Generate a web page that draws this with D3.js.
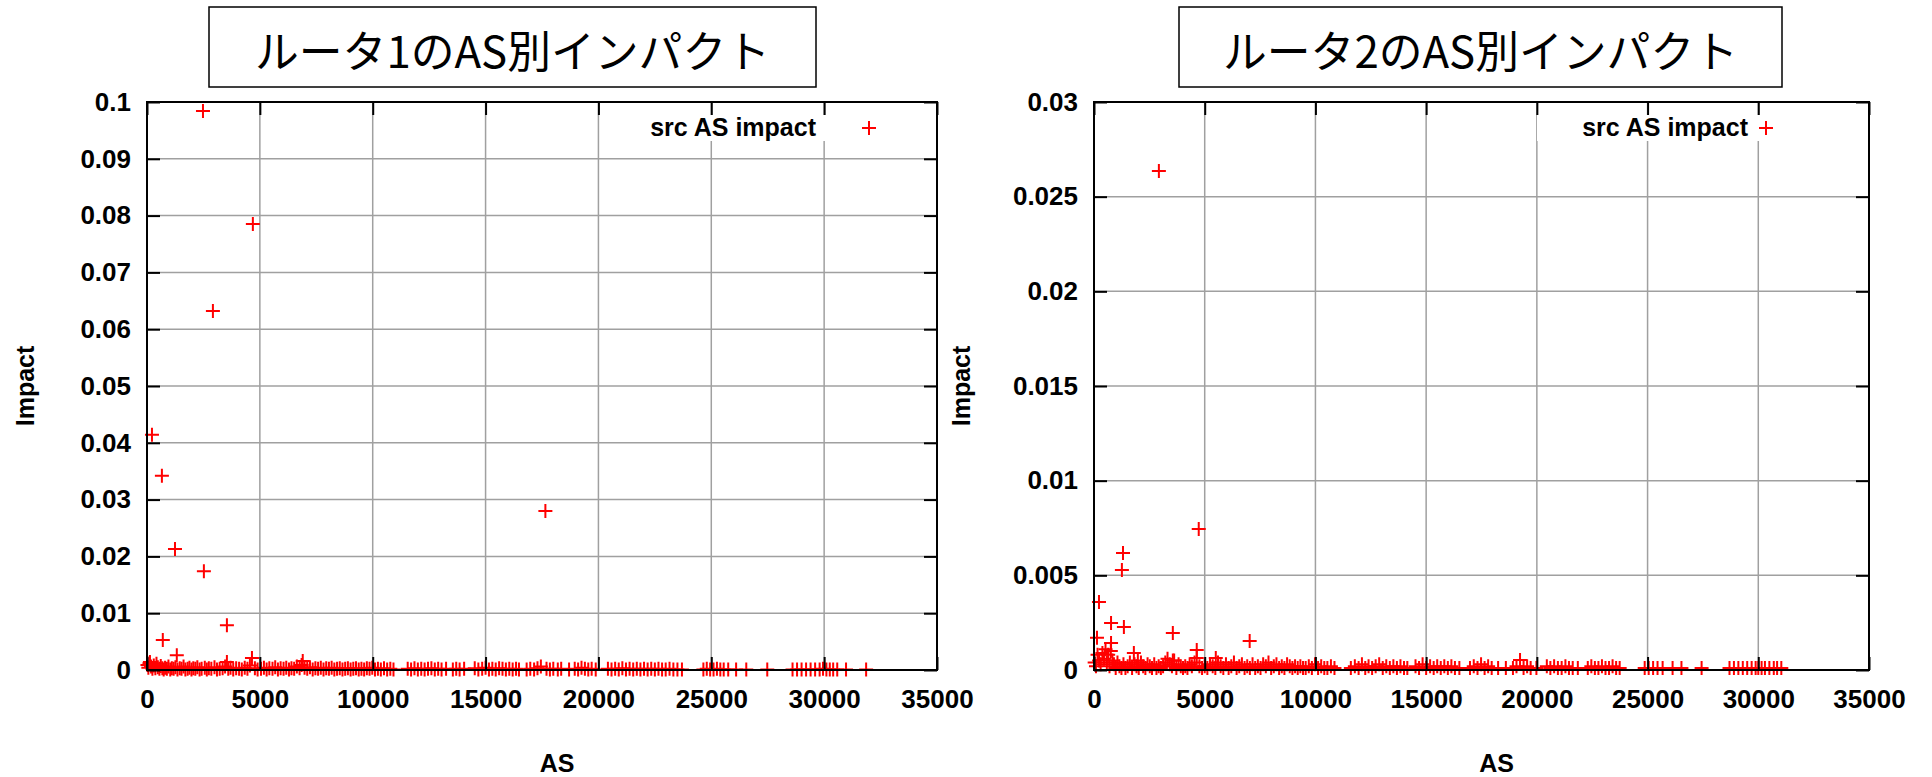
<!DOCTYPE html>
<html>
<head>
<meta charset="utf-8">
<script src="https://cdn.jsdelivr.net/npm/d3@7"></script>
<style>
  body { margin: 0; background: #fff; }
  svg text { font-family: "Liberation Sans", Arial, sans-serif; font-weight: bold; fill: #000; }
  svg text.title { font-family: "Noto Sans CJK JP", sans-serif; font-weight: normal; }
</style>
</head>
<body>
<div id="chart"></div>
<script>
/* DATA */
const titles = ["ルータ1のAS別インパクト", "ルータ2のAS別インパクト"];
const legendLabel = "src AS impact";
const xLabel = "AS";
const yLabel = "Impact";
const xTicks = [0, 5000, 10000, 15000, 20000, 25000, 30000, 35000];
const yTicks1 = [0, 0.01, 0.02, 0.03, 0.04, 0.05, 0.06, 0.07, 0.08, 0.09, 0.1];
const yTicks2 = [0, 0.005, 0.01, 0.015, 0.02, 0.025, 0.03];

// router 1 : [AS, impact]
const router1Peaks = [
  [2480, 0.0984], [4690, 0.0785], [2920, 0.0632], [220, 0.0414], [660, 0.0342],
  [1240, 0.0213], [2520, 0.0174], [17650, 0.0280], [3540, 0.0079], [700, 0.0053],
  [1320, 0.0026], [4650, 0.0021], [6900, 0.0016], [3540, 0.0014], [130, 0.0014]
];
const router1Low = [
  [20, 0.0009], [60, 0.0004], [110, 0.0012], [180, 0.0006], [240, 0.0002], [300, 0.0008],
  [370, 0.0003], [420, 0.0011], [480, 0.0005], [550, 0.0002], [610, 0.0007], [680, 0.0003],
  [740, 0.0001], [800, 0.0004], [880, 0.0002], [950, 0.0006], [1030, 0.0001], [1100, 0.0003],
  [1180, 0.0002], [1260, 0.0005], [1350, 0.0001], [1450, 0.0003], [1530, 0.0002], [1620, 0.0006],
  [1700, 0.0001], [1800, 0.0002], [1880, 0.0004], [1970, 0.0001], [2050, 0.0003], [2140, 0.0002],
  [2230, 0.0005], [2330, 0.0001], [2420, 0.0002], [2560, 0.0004], [2650, 0.0001], [2740, 0.0003],
  [2850, 0.0002], [2990, 0.0005], [3100, 0.0001], [3220, 0.0002], [3350, 0.0003], [3460, 0.0006],
  [3600, 0.0002], [3700, 0.0004], [3820, 0.0001], [3950, 0.0003], [4080, 0.0002], [4200, 0.0001],
  [4330, 0.0004], [4450, 0.0002], [4560, 0.0008], [4780, 0.0003], [4900, 0.0001],
  [5050, 0.0002], [5180, 0.0004], [5300, 0.0001], [5420, 0.0003], [5560, 0.0002], [5680, 0.0005],
  [5800, 0.0001], [5920, 0.0003], [6050, 0.0002], [6170, 0.0004], [6290, 0.0001], [6400, 0.0003],
  [6520, 0.0002], [6640, 0.0006], [6760, 0.0003], [6850, 0.0009], [6980, 0.0004], [7100, 0.0002],
  [7220, 0.0005], [7340, 0.0001], [7460, 0.0003], [7580, 0.0002], [7700, 0.0004], [7820, 0.0001],
  [7940, 0.0003], [8060, 0.0002], [8180, 0.0004], [8300, 0.0001], [8420, 0.0002], [8540, 0.0003],
  [8660, 0.0001], [8780, 0.0002], [8900, 0.0003], [9020, 0.0001], [9140, 0.0002], [9260, 0.0003],
  [9380, 0.0001], [9500, 0.0002], [9620, 0.0001], [9740, 0.0003], [9860, 0.0002], [9980, 0.0004],
  [10100, 0.0001], [10230, 0.0002], [10360, 0.0001], [10500, 0.0003], [10640, 0.0001], [10780, 0.0002],
  [10920, 0.0001],
  [11550, 0.0002], [11700, 0.0001], [11850, 0.0003], [12000, 0.0001], [12150, 0.0002], [12300, 0.0001],
  [12450, 0.0002], [12600, 0.0003], [12750, 0.0001], [12900, 0.0002], [13050, 0.0001], [13250, 0.0002],
  [13550, 0.0001], [13700, 0.0002], [13850, 0.0001], [14050, 0.0002],
  [14520, 0.0003], [14680, 0.0001], [14850, 0.0002], [15000, 0.0004], [15150, 0.0001], [15300, 0.0002],
  [15450, 0.0001], [15600, 0.0003], [15750, 0.0002], [15900, 0.0001], [16050, 0.0002], [16200, 0.0001],
  [16350, 0.0002], [16480, 0.0001],
  [16820, 0.0001], [16980, 0.0002], [17150, 0.0001], [17300, 0.0003], [17450, 0.0006], [17700, 0.0002],
  [17850, 0.0001], [18000, 0.0002], [18200, 0.0001], [18350, 0.0002], [18700, 0.0001],
  [18950, 0.0002], [19100, 0.0001], [19250, 0.0004], [19400, 0.0002], [19550, 0.0001], [19700, 0.0002],
  [19880, 0.0001],
  [20420, 0.0002], [20580, 0.0001], [20740, 0.0002], [20900, 0.0001], [21060, 0.0003], [21220, 0.0001],
  [21380, 0.0002], [21540, 0.0001], [21700, 0.0002], [21860, 0.0001], [22020, 0.0002], [22180, 0.0001],
  [22340, 0.0002], [22500, 0.0001], [22660, 0.0002], [22820, 0.0001], [22980, 0.0001], [23150, 0.0002],
  [23320, 0.0001], [23500, 0.0001], [23700, 0.0001],
  [24650, 0.0001], [24800, 0.0002], [24950, 0.0001], [25100, 0.0001], [25250, 0.0002], [25400, 0.0001],
  [25550, 0.0001], [25750, 0.0001], [26100, 0.0001], [26550, 0.0001], [27480, 0.0001],
  [28600, 0.0001], [28800, 0.0001], [29000, 0.0001], [29200, 0.0001], [29400, 0.0001], [29600, 0.0001],
  [29800, 0.0001], [29950, 0.0002], [30100, 0.0001], [30250, 0.0001], [30400, 0.0001], [30580, 0.0001],
  [30970, 0.0001], [31860, 0.0001]
];

// router 2 : [AS, impact]
const router2Peaks = [
  [2930, 0.02636], [4730, 0.00745], [1310, 0.00618], [1260, 0.00528], [225, 0.00359],
  [770, 0.00248], [1350, 0.00227], [3560, 0.00195], [7030, 0.00153], [135, 0.0017],
  [770, 0.00143], [4640, 0.00106], [1800, 0.0009], [4640, 0.00063], [5500, 0.00063],
  [1980, 0.0005], [3560, 0.0005], [19240, 0.00053]
];
const router2Low = [
  [30, 0.0004], [90, 0.0002], [160, 0.0008], [230, 0.0005], [300, 0.0003], [380, 0.0009],
  [450, 0.0006], [520, 0.0011], [580, 0.0004], [640, 0.0008], [700, 0.0002], [760, 0.0010],
  [830, 0.0005], [900, 0.0003], [980, 0.0001], [1060, 0.0004], [1150, 0.0002], [1240, 0.0001],
  [1330, 0.0003], [1420, 0.0001], [1520, 0.0002], [1620, 0.0004], [1720, 0.0001], [1830, 0.0003],
  [1920, 0.0002], [2020, 0.0001], [2120, 0.0004], [2220, 0.0002], [2320, 0.0001], [2420, 0.0003],
  [2520, 0.0002], [2620, 0.0001], [2720, 0.0003], [2820, 0.0001], [2920, 0.0002], [3020, 0.0001],
  [3120, 0.0002], [3220, 0.0004], [3320, 0.0006], [3420, 0.0003], [3520, 0.0002], [3620, 0.0005],
  [3720, 0.0001], [3820, 0.0003], [3920, 0.0002], [4020, 0.0001], [4120, 0.0002], [4220, 0.0001],
  [4320, 0.0003], [4420, 0.0002], [4540, 0.0004], [4760, 0.0002], [4880, 0.0001], [5000, 0.0002],
  [5120, 0.0001], [5240, 0.0003], [5360, 0.0002], [5480, 0.0001], [5600, 0.0004], [5720, 0.0002],
  [5840, 0.0001], [5960, 0.0003], [6080, 0.0001], [6200, 0.0002], [6320, 0.0004], [6440, 0.0001],
  [6560, 0.0002], [6680, 0.0003], [6800, 0.0001], [6920, 0.0002], [7040, 0.0001], [7160, 0.0003],
  [7280, 0.0001], [7400, 0.0002], [7520, 0.0001], [7640, 0.0003], [7760, 0.0002], [7880, 0.0004],
  [8000, 0.0001], [8120, 0.0002], [8240, 0.0003], [8360, 0.0001], [8480, 0.0002], [8600, 0.0001],
  [8720, 0.0003], [8840, 0.0002], [8960, 0.0001], [9080, 0.0002], [9200, 0.0001], [9320, 0.0002],
  [9440, 0.0001], [9560, 0.0001], [9700, 0.0002], [9840, 0.0001], [9980, 0.0003], [10120, 0.0001],
  [10260, 0.0002], [10400, 0.0001], [10540, 0.0001], [10700, 0.0002], [10860, 0.0001],
  [11600, 0.0001], [11780, 0.0002], [11950, 0.0001], [12100, 0.0003], [12250, 0.0001], [12400, 0.0002],
  [12560, 0.0001], [12720, 0.0002], [12880, 0.0003], [13040, 0.0001], [13200, 0.0002], [13360, 0.0001],
  [13520, 0.0002], [13680, 0.0001], [13840, 0.0002], [14000, 0.0001], [14150, 0.0001],
  [14520, 0.0002], [14680, 0.0001], [14840, 0.0003], [15000, 0.0001], [15180, 0.0002], [15340, 0.0001],
  [15500, 0.0002], [15660, 0.0001], [15820, 0.0002], [15980, 0.0001], [16140, 0.0002], [16300, 0.0001],
  [16500, 0.0001],
  [16980, 0.0001], [17150, 0.0002], [17320, 0.0001], [17480, 0.0003], [17640, 0.0001], [17800, 0.0002],
  [17960, 0.0001], [18250, 0.0001], [18600, 0.0001],
  [18920, 0.0001], [19080, 0.0002], [19400, 0.0001], [19560, 0.0002], [19720, 0.0001], [19980, 0.0001],
  [20450, 0.0002], [20610, 0.0001], [20780, 0.0002], [20950, 0.0001], [21120, 0.0001], [21290, 0.0002],
  [21450, 0.0001], [21620, 0.0001], [21850, 0.0001],
  [22300, 0.0001], [22460, 0.0002], [22620, 0.0001], [22780, 0.0001], [22940, 0.0002], [23100, 0.0001],
  [23260, 0.0001], [23420, 0.0002], [23580, 0.0001], [23740, 0.0001],
  [24870, 0.0001], [25050, 0.0001], [25250, 0.0001], [25450, 0.0001], [25680, 0.0001],
  [26130, 0.0001], [26530, 0.0001], [27440, 0.0001],
  [28700, 0.0001], [28900, 0.0001], [29100, 0.0001], [29300, 0.0001], [29500, 0.0001], [29700, 0.0001],
  [29880, 0.0001], [30000, 0.0001], [30150, 0.0001], [30300, 0.0001], [30500, 0.0001], [30700, 0.0001],
  [30850, 0.0001], [31040, 0.0001]
];

/* LAYOUT */
const width = 1932, height = 777;

const svg = d3.select("#chart").append("svg")
  .attr("width", width)
  .attr("height", height);

const cross = "M-7,0H7M0,-7V7";
const numFmt = d => String(+d.toFixed(4));

function drawPanel(p) {
  const x = d3.scaleLinear().domain([0, 35000]).range([p.left, p.right]);
  const y = d3.scaleLinear().domain([0, p.yMax]).range([p.bottom, p.top]);
  const g = svg.append("g");

  // title box
  g.append("rect")
    .attr("x", p.boxX).attr("y", 7).attr("width", p.boxW).attr("height", 80)
    .attr("fill", "#fff").attr("stroke", "#000").attr("stroke-width", 1.5);
  g.append("text").attr("class", "title")
    .attr("x", p.boxX + p.boxW / 2).attr("y", 49)
    .attr("text-anchor", "middle").attr("dominant-baseline", "central")
    .attr("font-size", 44)
    .attr("textLength", 515).attr("lengthAdjust", "spacingAndGlyphs")
    .text(p.title);

  // grid
  g.append("g").selectAll("line")
    .data(xTicks.slice(1, -1))
    .join("line")
    .attr("x1", d => x(d)).attr("x2", d => x(d))
    .attr("y1", p.top).attr("y2", p.bottom)
    .attr("stroke", "#a0a0a0").attr("stroke-width", 1.5);
  g.append("g").selectAll("line")
    .data(p.yTicks.slice(1, -1))
    .join("line")
    .attr("x1", p.left).attr("x2", p.right)
    .attr("y1", d => y(d)).attr("y2", d => y(d))
    .attr("stroke", "#a0a0a0").attr("stroke-width", 1.5);

  // legend background hides the grid
  g.append("rect")
    .attr("x", p.right - 332).attr("y", 115)
    .attr("width", 325).attr("height", 26)
    .attr("fill", "#fff");

  // points
  g.append("g").selectAll("path")
    .data(p.low.concat(p.peaks))
    .join("path")
    .attr("d", cross)
    .attr("transform", d => `translate(${x(d[0])},${y(d[1])})`)
    .attr("fill", "none").attr("stroke", "#ff0000").attr("stroke-width", 2);

  // axes (ticks inward)
  const bottomAxis = g.append("g")
    .attr("transform", `translate(0,${p.bottom})`)
    .call(d3.axisBottom(x).tickValues(xTicks).tickSize(-13).tickPadding(20).tickFormat(d3.format("d")));
  const topAxis = g.append("g")
    .attr("transform", `translate(0,${p.top})`)
    .call(d3.axisTop(x).tickValues(xTicks).tickSize(-13).tickFormat(""));
  const leftAxis = g.append("g")
    .attr("transform", `translate(${p.left},0)`)
    .call(d3.axisLeft(y).tickValues(p.yTicks).tickSize(-13).tickPadding(16).tickFormat(numFmt));
  const rightAxis = g.append("g")
    .attr("transform", `translate(${p.right},0)`)
    .call(d3.axisRight(y).tickValues(p.yTicks).tickSize(-13).tickFormat(""));

  [bottomAxis, topAxis, leftAxis, rightAxis].forEach(a => {
    a.select(".domain").remove();
    a.selectAll(".tick line").attr("stroke", "#000").attr("stroke-width", 2);
    a.selectAll(".tick text").attr("font-size", 26).attr("font-family", null);
  });

  // border
  g.append("rect")
    .attr("x", p.left).attr("y", p.top)
    .attr("width", p.right - p.left).attr("height", p.bottom - p.top)
    .attr("fill", "none").attr("stroke", "#000").attr("stroke-width", 2);

  // axis titles
  g.append("text")
    .attr("x", (p.left + p.right) / 2 + 15).attr("y", 772)
    .attr("text-anchor", "middle").attr("font-size", 25)
    .text(xLabel);
  g.append("text")
    .attr("transform", `translate(${p.yLabelX},${(p.top + p.bottom) / 2}) rotate(-90)`)
    .attr("text-anchor", "middle").attr("dominant-baseline", "central")
    .attr("font-size", 25)
    .text(yLabel);

  // legend
  g.append("text")
    .attr("x", p.right - 121).attr("y", 136)
    .attr("text-anchor", "end").attr("font-size", 25)
    .text(legendLabel);
  g.append("path")
    .attr("d", cross)
    .attr("transform", `translate(${p.right - p.keyOffset},128)`)
    .attr("fill", "none").attr("stroke", "#ff0000").attr("stroke-width", 2);
}

drawPanel({
  title: titles[0], boxX: 209, boxW: 607,
  left: 147, right: 937, top: 102, bottom: 670,
  yMax: 0.1, yTicks: yTicks1, yLabelX: 25, keyOffset: 68,
  peaks: router1Peaks, low: router1Low
});
drawPanel({
  title: titles[1], boxX: 1179, boxW: 603,
  left: 1094, right: 1869, top: 102, bottom: 670,
  yMax: 0.03, yTicks: yTicks2, yLabelX: 961, keyOffset: 103,
  peaks: router2Peaks, low: router2Low
});
</script>
</body>
</html>
